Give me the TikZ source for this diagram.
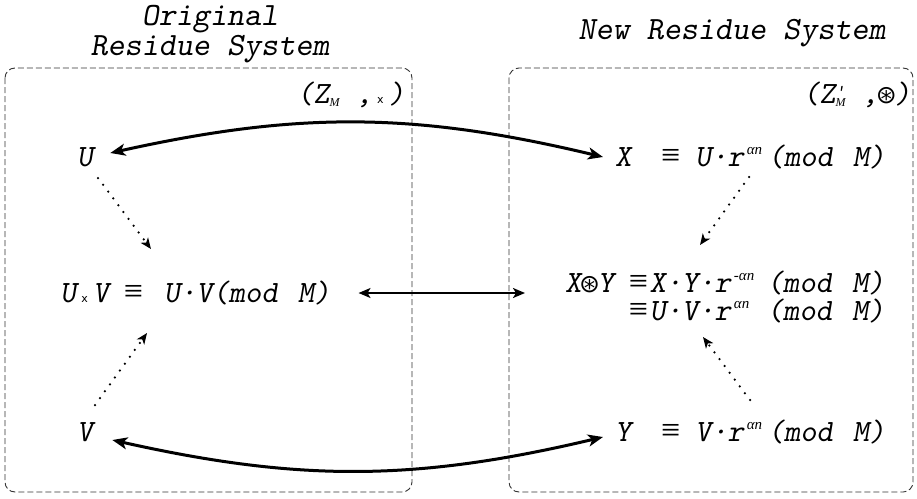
\documentclass[tikz,border=0pt]{standalone}
\usepackage{fontspec}
\newfontfamily\sym{DejaVu Sans}
\newfontfamily\serf{Liberation Serif}
\usetikzlibrary{arrows.meta,calc}
\newcommand{\eqv}{\makebox[0.525em]{\serf\upshape\fontsize{34}{34}\selectfont ≡}}
\newcommand{\smx}{\makebox[0.525em]{\sym\upshape\fontsize{11}{11}\selectfont x}}
\newcommand{\cast}{\makebox[0.525em]{\sym\upshape\fontsize{25}{25}\selectfont ⊛}}
\newcommand{\spr}[2][24pt]{\makebox[#1][l]{\hspace{3pt}\raisebox{12pt}{\serf\fontsize{15}{15}\selectfont #2}}}
\newcommand{\sbm}{\raisebox{-3pt}{\serf\itshape\fontsize{12}{12}\selectfont M}}
\newcommand{\modM}{(mod\hspace{20pt}M)}
\begin{document}
\begin{tikzpicture}[x=1pt,y=-1pt,
  txt/.style={font=\fontsize{31}{28}\selectfont\ttfamily\slshape, inner sep=0pt},
  ttl/.style={font=\fontsize{32.5}{30}\selectfont\ttfamily\slshape, inner sep=0pt, align=center},
  boxst/.style={draw=black!80, line width=0.9pt, dash pattern=on 6pt off 3pt, rounded corners=10pt},
  thk/.style={line width=3pt, {Stealth[length=15pt,width=12pt,inset=4pt]}-{Stealth[length=15pt,width=12pt,inset=4pt]}},
  mid/.style={line width=2pt, {Stealth[length=12pt,width=10pt,inset=3pt]}-{Stealth[length=12pt,width=10pt,inset=3pt]}},
  dotarrow/.style={line width=2.5pt, line cap=round, dash pattern=on 0pt off 8.5pt, -{Stealth[length=11pt,width=9pt,inset=3pt]}}
]
\useasboundingbox (0,0) rectangle (917,498);
\draw[boxst] (5,68) rectangle (412,492);
\draw[boxst] (509,68) rectangle (913,492);

\node[ttl] (t1) at (210,34) {Original\\Residue System};
\node[ttl] (t2) at (732,33) {New Residue System};

\node[txt] (l1) at (351,95) {(Z\sbm{} ,\smx{})};
\node[txt] (l2) at (857,95) {(Z\makebox[0pt][l]{\raisebox{6pt}{\fontsize{18}{18}\selectfont '}}\sbm{} ,\cast{})};

\node[txt] (U) at (85,157) {U};
\node[txt, anchor=west] (X) at (615,157) {X\hspace{31pt}\eqv{} U·r\spr{αn}\modM};
\node[txt, anchor=west] (UV) at (60,293) {U\smx{}V \eqv{}\hspace{6pt} U·V\modM};
\node[txt, anchor=west, align=right] (XY) at (565,297) {X\cast{}Y \eqv{}\hspace{3pt}X·Y·r\spr[36pt]{-αn}\modM\\\eqv{}\hspace{3pt}U·V·r\spr[36pt]{αn}\modM};
\node[txt] (V) at (85,432) {V};
\node[txt, anchor=west] (Y) at (615,432) {Y\hspace{31pt}\eqv{} V·r\spr{αn}\modM};

\draw[thk] ($(U.east)+(17,-4)$) to[bend left=13] ($(X.west)+(-12,0)$);
\draw[thk] ($(V.east)+(19,8)$) to[bend right=13] ($(Y.west)+(-12,5)$);
\draw[mid] ($(UV.east)+(28,0)$) -- ($(XY.west)+(-40,-4)$);

\draw[dotarrow] ($(U)+(13,21)$) -- ($(UV.west)+(91,-44)$);
\draw[dotarrow] ($(V)+(10,-27)$) -- ($(UV.west)+(87,40)$);
\draw[dotarrow] ($(X.west)+(134,20)$) -- ($(XY.west)+(135,-52)$);
\draw[dotarrow] ($(Y.west)+(135,-32)$) -- ($(XY.west)+(138,40)$);
\end{tikzpicture}
\end{document}
